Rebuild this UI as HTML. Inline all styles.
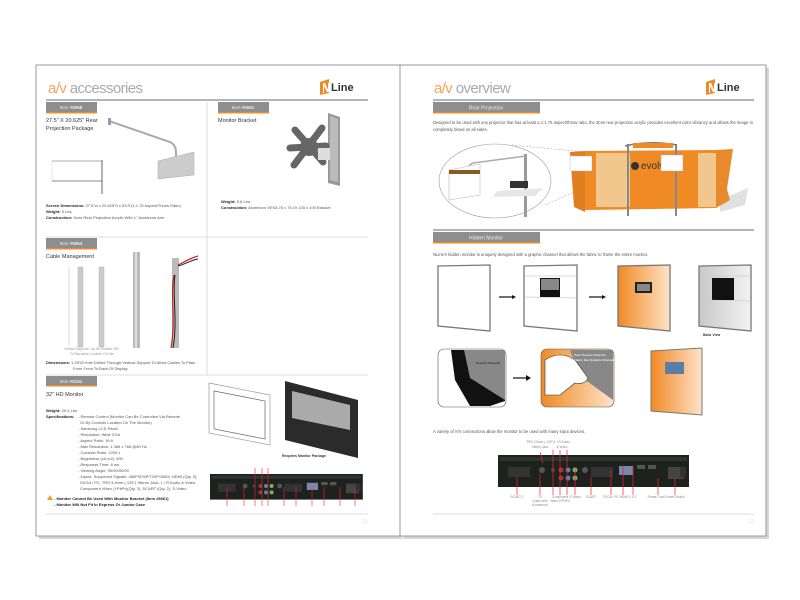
<!DOCTYPE html>
<html><head><meta charset="utf-8"><style>
html,body{margin:0;padding:0;background:#fff;}
svg{display:block;font-family:"Liberation Sans",sans-serif;}
</style></head><body>
<svg width="800" height="600" viewBox="0 0 800 600" xmlns="http://www.w3.org/2000/svg">
<defs>
<linearGradient id="og" x1="0" x2="1"><stop offset="0" stop-color="#f08a24"/><stop offset="1" stop-color="#fde3c8"/></linearGradient>
<linearGradient id="gg" x1="0" x2="1"><stop offset="0" stop-color="#c8c8c8"/><stop offset="1" stop-color="#f2f2f2"/></linearGradient>
<g id="panel">
<rect x="0" y="0" width="191" height="32" fill="#1e221f"/>
<rect x="2" y="2" width="187" height="4" fill="#2e3430"/>
<rect x="10" y="12" width="22" height="10" fill="#333"/>
<circle cx="44" cy="15" r="3" fill="#555"/>
<circle cx="55" cy="15" r="2" fill="#444"/>
<circle cx="63" cy="15" r="2.5" fill="#a33"/><circle cx="70" cy="15" r="2.5" fill="#58a"/><circle cx="77" cy="15" r="2.5" fill="#8a6"/>
<circle cx="63" cy="23" r="2.5" fill="#a33"/><circle cx="70" cy="23" r="2.5" fill="#58a"/><circle cx="77" cy="23" r="2.5" fill="#8a6"/>
<circle cx="87" cy="15" r="3" fill="#555"/>
<rect x="93" y="12" width="22" height="10" fill="#333"/>
<rect x="121" y="11" width="14" height="9" fill="#78a"/>
<rect x="139" y="10" width="8" height="4" fill="#555"/><rect x="150" y="10" width="8" height="4" fill="#555"/>
<rect x="170" y="12" width="16" height="12" fill="#444"/>
<rect x="182" y="12" width="6" height="10" fill="#333"/>
</g>
<g id="logo">
<polygon points="0,5 9,2 9,16 0,18" fill="#f08a24"/>
<polygon points="3,6 5,6 8,13 8,6 9,6 9,15 7,15 4,9 4,16 3,16" fill="#fff"/>
<text x="11" y="14" font-size="11" font-weight="bold" fill="#333">Line</text>
</g>
</defs>

<rect x="39" y="68" width="363" height="471" fill="#bbb" opacity="0.6"/>
<rect x="403" y="68" width="366" height="471" fill="#bbb" opacity="0.6"/>
<rect x="36" y="65" width="364" height="471" fill="#fff" stroke="#999" stroke-width="1"/>
<rect x="400" y="65" width="366" height="471" fill="#fff" stroke="#999" stroke-width="1"/>

<!-- LEFT PAGE -->
<text x="48" y="93" font-size="15" fill="#f7a45a" letter-spacing="-0.6">a/v <tspan fill="#aaa">accessories</tspan></text>
<use href="#logo" x="320" y="77"/>
<line x1="46" y1="100" x2="368" y2="100" stroke="#888" stroke-width="1.2"/>
<line x1="207" y1="102" x2="207" y2="375" stroke="#ddd"/>
<line x1="46" y1="237" x2="368" y2="237" stroke="#ddd"/>
<line x1="46" y1="375" x2="368" y2="375" stroke="#ddd"/>

<g font-size="4.5" fill="#eee" text-anchor="middle">
<rect x="46" y="102" width="51" height="10" fill="#8e8e8e"/><rect x="46" y="112" width="51" height="1.5" fill="#f08a24"/><text x="71" y="109">Item <tspan font-weight="bold">#5068</tspan></text>
<rect x="218" y="102" width="51" height="10" fill="#8e8e8e"/><rect x="218" y="112" width="51" height="1.5" fill="#f08a24"/><text x="243" y="109">Item <tspan font-weight="bold">#5061</tspan></text>
<rect x="46" y="238" width="51" height="10" fill="#8e8e8e"/><rect x="46" y="248" width="51" height="1.5" fill="#f08a24"/><text x="71" y="245">Item <tspan font-weight="bold">#5064</tspan></text>
<rect x="46" y="376" width="51" height="9" fill="#8e8e8e"/><rect x="46" y="385" width="51" height="1.5" fill="#f08a24"/><text x="71" y="383">Item <tspan font-weight="bold">#5151</tspan></text>
</g>

<g font-size="5.5" fill="#333">
<text x="46" y="122">27.5" X 20.625" Rear</text><text x="46" y="130">Projection Package</text>
<text x="218" y="122">Monitor Bracket</text>
<text x="46" y="258">Cable Management</text>
<text x="46" y="396">32" HD Monitor</text>
</g>
<path d="M109,121 L170,142 Q176,145 176,152 L176,158" stroke="#aaa" stroke-width="2" fill="none"/>
<rect x="108" y="118" width="3" height="7" fill="#99a"/>
<polygon points="158,161 194,152 194,175 158,179" fill="#ccc" stroke="#aaa" stroke-width="0.5"/>
<rect x="52" y="161" width="50" height="20" fill="none" stroke="#aaa" stroke-width="0.5" stroke-dasharray="1,1"/>
<line x1="52" y1="181" x2="102" y2="181" stroke="#888"/>
<line x1="102" y1="160" x2="102" y2="194" stroke="#666" stroke-width="1"/>
<line x1="52" y1="161" x2="102" y2="161" stroke="#555" stroke-width="0.4"/>
<!-- bracket -->
<polygon points="328,113 340,117 340,186 328,183" fill="#999"/>
<polygon points="330,116 338,119 338,182 330,180" fill="#bbb"/>
<path d="M295,130 L323,162 M322,128 L294,165 M290,148 L326,146" stroke="#666" stroke-width="7" stroke-linecap="round"/>
<circle cx="309" cy="147" r="9" fill="#666"/>
<rect x="318" y="148" width="12" height="12" fill="#ddd"/>
<g font-size="4" fill="#555">
<text x="46" y="207"><tspan font-weight="bold" fill="#222">Screen Dimensions:</tspan> 27.5"w x 20.625"h x 53.5"(1:1.75 Aspect/Throw Ratio)</text>
<text x="46" y="213"><tspan font-weight="bold" fill="#222">Weight:</tspan> 5 Lbs.</text>
<text x="46" y="219"><tspan font-weight="bold" fill="#222">Construction:</tspan> 3mm Rear Projection Acrylic With 1" Aluminum Arm</text>
<text x="221" y="203"><tspan font-weight="bold" fill="#222">Weight:</tspan> 5.6 Lbs.</text>
<text x="221" y="209"><tspan font-weight="bold" fill="#222">Construction:</tspan> Aluminum VESA 75 x 75 Or 100 x 100 Bracket</text>
</g>
<rect x="78" y="267" width="5" height="80" fill="#ccc" stroke="#aaa" stroke-width="0.4"/>
<rect x="99" y="267" width="5" height="80" fill="#ccc" stroke="#aaa" stroke-width="0.4"/>
<line x1="69" y1="267" x2="69" y2="345" stroke="#999" stroke-width="0.4"/>
<rect x="133" y="252" width="7" height="96" fill="#bbb"/>
<rect x="135" y="252" width="2" height="96" fill="#ddd"/>
<rect x="172" y="258" width="7" height="90" fill="#bbb"/>
<path d="M178,265 C185,262 190,258 198,256" stroke="#c22" stroke-width="1.2" fill="none"/>
<path d="M178,266 C186,264 191,260 198,259" stroke="#222" stroke-width="1" fill="none"/>
<path d="M174,275 C170,295 176,320 171,348" stroke="#c22" stroke-width="1.2" fill="none"/>
<path d="M175,275 C172,295 178,320 173,348" stroke="#222" stroke-width="1" fill="none"/>
<g font-size="3.2" fill="#999" text-anchor="middle"><text x="92" y="350">Vertical Supports Can Be Rotated 180°</text><text x="92" y="355">To Reposition Location Of Hole</text></g>
<g font-size="4" fill="#555">
<text x="46" y="364"><tspan font-weight="bold" fill="#222">Dimensions:</tspan>   1.25"Ø Hole Drilled Through Vertical Support To Allow Cables To Pass</text>
<text x="73" y="370">From Front To Back Of Display</text>
<text x="46" y="412"><tspan font-weight="bold" fill="#222">Weight:</tspan> 29.4 Lbs.</text>
<text x="46" y="418"><tspan font-weight="bold" fill="#222">Specifications:</tspan></text>
<text x="78" y="418">- Remote Control (Monitor Can Be Controlled Via Remote</text>
<text x="80" y="424">Or By Controls Located On The Monitor)</text>
<text x="78" y="430">- Samsung LCD Panel</text>
<text x="78" y="436">- Resolution: Wide XGA</text>
<text x="78" y="442">- Aspect Ratio: 16:9</text>
<text x="78" y="448">- Max Resolution: 1,366 x 768 @60 Hz</text>
<text x="78" y="454">- Contrast Ratio: 1200:1</text>
<text x="78" y="460">- Brightness (cd m2): 500</text>
<text x="78" y="466">- Response Time: 8 ms.</text>
<text x="78" y="472">- Viewing Angle: 90/90/90/90</text>
<text x="78" y="478">- Inputs: Supported Signals: 480P/576P/720P/1080i, HDMI (Qty. 2),</text>
<text x="80" y="484">SVGA / PC, TRS 3.5mm (.125") Stereo Jack, L / R Audio &amp; Video,</text>
<text x="80" y="490">Component Video (YPbPr)(Qty. 2), SCART (Qty. 2), S-Video</text>
<polygon points="50,495 47,500 53,500" fill="#f0a020"/>
<text x="54" y="500" font-weight="bold" fill="#222">- Monitor Cannot Be Used With Monitor Bracket (Item #5061)</text>
<text x="54" y="506" font-weight="bold" fill="#222">- Monitor Will Not Fit In Express Or Jumbo Case</text>
</g>
<polygon points="209,383 270,395 270,445 209,433" fill="#fff" stroke="#999" stroke-width="0.7"/>
<polygon points="214,391 265,401 265,439 214,429" fill="none" stroke="#666" stroke-width="0.7"/>
<polygon points="285,381 358,400 358,458 285,440" fill="#2b2b2b"/>
<polygon points="292,391 350,405 350,430 292,418" fill="#aaa"/>
<text x="282" y="457" font-size="3.5" font-weight="bold" fill="#333">Requires Monitor Package</text>
<g transform="translate(210,474) scale(0.8)"><use href="#panel"/></g>
<g stroke="#e23" stroke-width="0.6">
<line x1="227" y1="487" x2="227" y2="506"/><line x1="244" y1="487" x2="244" y2="506"/><line x1="255" y1="468" x2="255" y2="506"/><line x1="262" y1="468" x2="262" y2="506"/><line x1="268" y1="468" x2="268" y2="506"/><line x1="284" y1="487" x2="284" y2="506"/><line x1="296" y1="487" x2="296" y2="506"/><line x1="312" y1="487" x2="312" y2="506"/><line x1="324" y1="487" x2="324" y2="506"/><line x1="340" y1="487" x2="340" y2="506"/><line x1="355" y1="487" x2="355" y2="506"/>
</g>
<line x1="46" y1="514" x2="368" y2="514" stroke="#ddd"/>
<text x="362" y="523" font-size="5" fill="#ddd">13</text>

<!-- RIGHT PAGE -->
<text x="434" y="93" font-size="15" fill="#f7a45a" letter-spacing="-0.6">a/v <tspan fill="#aaa">overview</tspan></text>
<use href="#logo" x="706" y="77"/>
<line x1="433" y1="100" x2="754" y2="100" stroke="#888" stroke-width="1.2"/>
<rect x="433" y="102" width="107" height="10" fill="#8e8e8e"/><rect x="433" y="112" width="107" height="1.5" fill="#f08a24"/>
<text x="486" y="109.5" font-size="5" fill="#eee" text-anchor="middle">Rear Projection</text>
<g font-size="4.2" fill="#555">
<text x="433" y="124">Designed to be used with any projector that has at least a 1:1.75 aspect/throw ratio, the 3mm rear projection acrylic provides excellent color vibrancy and allows the image to</text>
<text x="433" y="131">completely bleed on all sides.</text>
</g>
<ellipse cx="495" cy="181" rx="56" ry="37" fill="#fff" stroke="#999" stroke-width="0.6"/>
<line x1="512" y1="145" x2="585" y2="152" stroke="#999" stroke-width="0.5" stroke-dasharray="2,1.5"/>
<line x1="545" y1="205" x2="590" y2="185" stroke="#999" stroke-width="0.5" stroke-dasharray="2,1.5"/>
<rect x="524" y="154" width="3" height="63" fill="#999"/>
<path d="M526,156 L473,163 Q469,164 469,170" stroke="#aaa" stroke-width="1.5" fill="none"/>
<polygon points="449,170 480,164 480,195 449,200" fill="#fff" stroke="#bbb" stroke-width="0.6"/>
<rect x="449" y="170" width="31" height="4" fill="#8a5a20"/>
<polygon points="497,191 543,188 535,196 493,197" fill="#e6e6e6"/>
<rect x="510" y="181" width="18" height="7" fill="#333"/>
<!-- booth -->
<polygon points="720,200 748,188 745,205 720,212" fill="#ccc" opacity="0.6"/>
<polygon points="585,151 716,150 716,208 585,210" fill="#f08a24"/>
<polygon points="716,150 716,208 730,200 716,150" fill="#e8892c"/>
<polygon points="716,150 733,149 725,202 716,208" fill="#e8892c"/>
<polygon points="570,152 585,151 585,212 574,207" fill="#e07f22"/>
<rect x="596" y="153" width="34" height="54" fill="#f3d6a8" opacity="0.8"/>
<rect x="698" y="153" width="18" height="54" fill="#f3d6a8" opacity="0.8"/>
<rect x="627" y="144" width="2" height="72" fill="#888"/>
<rect x="675" y="144" width="2" height="72" fill="#888"/>
<path d="M625,146 Q650,140 677,145" stroke="#777" stroke-width="1.5" fill="none"/>
<rect x="633" y="143" width="40" height="5" fill="#f08a24"/>
<circle cx="635" cy="166" r="4" fill="#333"/>
<text x="641" y="169" font-size="10" fill="#333">evolv</text>
<rect x="570" y="156" width="22" height="15" fill="#fff" stroke="#aaa" stroke-width="0.4"/>
<rect x="661" y="155" width="22" height="16" fill="#fff" stroke="#aaa" stroke-width="0.4"/>
<line x1="433" y1="230" x2="754" y2="230" stroke="#888" stroke-width="1.2"/>
<rect x="433" y="232" width="107" height="10" fill="#8e8e8e"/><rect x="433" y="242" width="107" height="1.5" fill="#f08a24"/>
<text x="486" y="239.5" font-size="5" fill="#eee" text-anchor="middle">Hidden Monitor</text>
<text x="433" y="256" font-size="4.2" fill="#555">NLine's hidden monitor is uniquely designed with a graphic channel that allows the fabric to frame the entire monitor.</text>
<g stroke="#777" stroke-width="1.3" fill="#fff">
<polygon points="438,266 490,265 490,331 438,326"/>
<polygon points="524,266 577,265 577,331 524,326"/>
<polygon points="618,266 670,265 670,331 618,326" fill="url(#og)"/>
<polygon points="699,266 751,265 751,331 699,326" fill="url(#gg)"/>
</g>
<g fill="#111"><rect x="540" y="278" width="20" height="19"/><rect x="712" y="278" width="22" height="22"/></g>
<rect x="541" y="279" width="18" height="11" fill="#888"/>
<rect x="635" y="282" width="17" height="11" fill="#222"/><rect x="637" y="284" width="13" height="7" fill="#888"/>
<g stroke="#ccc" stroke-width="0.7"><line x1="525" y1="276" x2="576" y2="276"/><line x1="525" y1="297" x2="576" y2="298"/><line x1="700" y1="276" x2="750" y2="276"/><line x1="700" y1="300" x2="750" y2="301"/></g>
<g stroke="#111" stroke-width="1.2"><line x1="499" y1="297" x2="512" y2="297"/><line x1="589" y1="297" x2="602" y2="297"/><line x1="513" y1="378" x2="527" y2="378"/></g>
<g fill="#111"><polygon points="512,295 516,297 512,299"/><polygon points="602,295 606,297 602,299"/><polygon points="526,375 531,378 526,381"/></g>
<text x="703" y="336" font-size="3.5" font-weight="bold" fill="#333">Back View</text>
<rect x="438" y="349" width="68" height="58" rx="6" fill="#fff" stroke="#555" stroke-width="0.6"/>
<polygon points="451,350 505,350 505,401 490,406 470,406 455,380" fill="#111"/>
<polygon points="464,350 505,350 505,400 470,378" fill="#888"/>
<rect x="541" y="349" width="73" height="58" rx="6" fill="url(#og)" stroke="#555" stroke-width="0.6"/>
<polygon points="570,350 613,350 613,400 580,376" fill="#888"/>
<path d="M545,360 Q560,350 575,360 L588,378 Q585,385 575,383 L560,395 L545,395 Z" fill="#fff" stroke="#333" stroke-width="0.6"/>
<text x="476" y="364" font-size="3" font-weight="bold" fill="#333">Graphic Channel</text>
<text x="574" y="356" font-size="3" font-weight="bold" fill="#eee">Tuck Tension Strip On</text>
<text x="574" y="361" font-size="3" font-weight="bold" fill="#eee">Fabric Into Graphic Channel</text>
<polygon points="651,351 702,348 702,415 651,411" fill="url(#og)" stroke="#777" stroke-width="1"/>
<rect x="665" y="362" width="19" height="12" fill="#5a7fa6"/>
<text x="433" y="433" font-size="4.2" fill="#555">A variety of A/V connections allow the monitor to be used with many input devices.</text>
<g font-size="3.2" fill="#888" text-anchor="middle">
<text x="540" y="443">TRS 3.5mm (.125")</text><text x="540" y="448">Stereo Jack</text>
<text x="562" y="443">L / R Audio</text><text x="562" y="448">&amp; Video</text>
</g>
<use href="#panel" x="498" y="455"/>
<g stroke="#e23" stroke-width="0.7">
<line x1="517" y1="477" x2="517" y2="495"/><line x1="540" y1="452" x2="543" y2="463"/><line x1="540" y1="474" x2="540" y2="495"/><line x1="553" y1="450" x2="553" y2="495"/><line x1="560" y1="450" x2="560" y2="495"/><line x1="567" y1="450" x2="567" y2="495"/><line x1="575" y1="470" x2="575" y2="495"/><line x1="591" y1="477" x2="591" y2="495"/><line x1="611" y1="470" x2="611" y2="495"/><line x1="623" y1="466" x2="623" y2="495"/><line x1="633" y1="466" x2="633" y2="495"/><line x1="658" y1="478" x2="658" y2="495"/><line x1="675" y1="478" x2="675" y2="495"/>
</g>
<g font-size="3.2" fill="#888" text-anchor="middle">
<text x="517" y="498">SCART 2</text><text x="540" y="498">TV</text><text x="540" y="502">(Used with</text><text x="540" y="506">a Antenna)</text>
<text x="560" y="498">Component</text><text x="560" y="502">Video (YPbPr)</text><text x="575" y="498">S-Video</text>
<text x="591" y="498">SCART</text><text x="611" y="498">SVGA / PC</text><text x="628" y="498">HDMI 1 &amp; 2</text>
<text x="656" y="498">Power Cord</text><text x="675" y="498">Power Switch</text>
</g>
<line x1="433" y1="514" x2="754" y2="514" stroke="#ddd"/>
<text x="748" y="523" font-size="5" fill="#ddd">12</text>
</svg>
</body></html>
